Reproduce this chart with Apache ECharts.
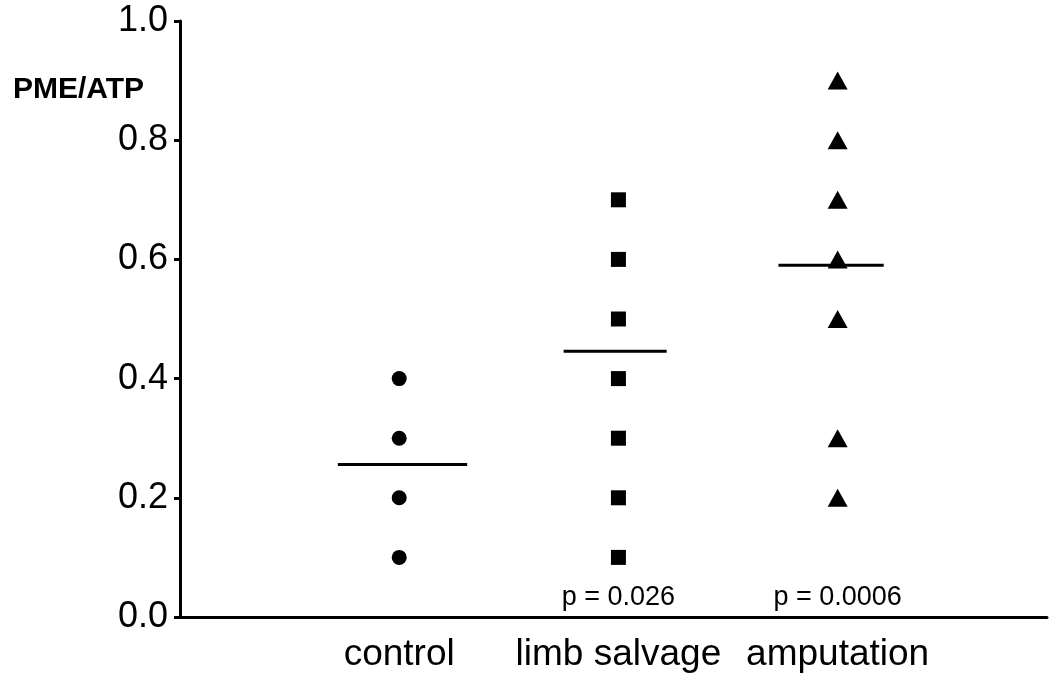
<!DOCTYPE html>
<html>
<head>
<meta charset="utf-8">
<script src="https://cdn.jsdelivr.net/npm/echarts@6/dist/echarts.min.js"></script>
<style>html,body{margin:0;padding:0;background:#fff;}#c{width:1050px;height:678px;}</style>
</head>
<body>
<div id="c"></div>
<script>
// ---- data ----
const categories = ['control', 'limb salvage', 'amputation'];
const controlValues = [0.4, 0.3, 0.2, 0.1];
const limbSalvageValues = [0.7, 0.6, 0.5, 0.4, 0.3, 0.2, 0.1];
const amputationValues = [0.9, 0.8, 0.7, 0.6, 0.5, 0.3, 0.2];
const groupMeans = [0.256, 0.446, 0.59];
const pValueLabels = ['', 'p = 0.026', 'p = 0.0006'];
const yTicks = [0, 0.2, 0.4, 0.6, 0.8, 1.0];
const yAxisTitle = 'PME/ATP';

// ---- styles ----
const FONT = '"Liberation Sans", Arial, Helvetica, sans-serif';
const MEAN_EXTENT = [[0.28, 0.31], [0.25, 0.22], [0.27, 0.21]]; // left/right half-widths in x units
const symbols = ['circle', 'rect', 'triangle'];
const symbolSizes = [15, 15, [20, 18]];

const groups = [controlValues, limbSalvageValues, amputationValues];

const chart = echarts.init(document.getElementById('c'), null, {renderer: 'canvas'});

const scatterSeries = groups.map((vals, gi) => ({
  type: 'scatter',
  symbol: symbols[gi],
  symbolSize: symbolSizes[gi],
  itemStyle: {color: '#000', opacity: 1},
  data: vals.map(v => [gi + 1, v]),
  z: 3
}));

const meanSeries = {
  type: 'custom',
  data: groupMeans.map((m, i) => [i + 1, m, i]),
  renderItem: function (params, api) {
    const x = api.value(0), y = api.value(1), i = api.value(2);
    const p1 = api.coord([x - MEAN_EXTENT[i][0], y]);
    const p2 = api.coord([x + MEAN_EXTENT[i][1], y]);
    return {
      type: 'line',
      shape: {x1: p1[0], y1: p1[1], x2: p2[0], y2: p2[1]},
      style: {stroke: '#000', lineWidth: 3}
    };
  },
  z: 2
};

const pSeries = {
  type: 'scatter',
  symbolSize: 1,
  itemStyle: {opacity: 0},
  data: pValueLabels.map((t, i) => ({value: [i + 1, 0], name: t})),
  label: {
    show: true,
    position: 'top',
    distance: 5,
    formatter: p => p.name,
    fontFamily: FONT,
    fontSize: 27,
    color: '#000',
    opacity: 1
  },
  emphasis: {disabled: true},
  silent: true
};

chart.setOption({
  animation: false,
  backgroundColor: '#fff',
  title: {
    text: yAxisTitle,
    left: 8,
    top: 70,
    textStyle: {fontFamily: FONT, fontSize: 30, fontWeight: 'bold', color: '#000'}
  },
  grid: {left: 180, right: 3, top: 21, bottom: 61, containLabel: false},
  xAxis: {
    type: 'value',
    min: 0,
    max: 3.955,
    interval: 1,
    axisLine: {show: true, onZero: false, lineStyle: {color: '#000', width: 3}},
    axisTick: {show: false},
    splitLine: {show: false},
    axisLabel: {
      fontFamily: FONT,
      fontSize: 37,
      color: '#000',
      margin: 19,
      showMaxLabel: false,
      formatter: v => (v >= 1 && v <= categories.length && Number.isInteger(v)) ? categories[v - 1] : ''
    }
  },
  yAxis: {
    type: 'value',
    min: yTicks[0],
    max: yTicks[yTicks.length - 1],
    interval: 0.2,
    axisLine: {show: true, lineStyle: {color: '#000', width: 3}},
    axisTick: {show: true, length: 6, lineStyle: {color: '#000', width: 3}},
    splitLine: {show: false},
    axisLabel: {
      fontFamily: FONT,
      fontSize: 36,
      color: '#000',
      margin: 12,
      formatter: v => v.toFixed(1)
    }
  },
  series: [...scatterSeries, meanSeries, pSeries]
});
</script>
</body>
</html>
